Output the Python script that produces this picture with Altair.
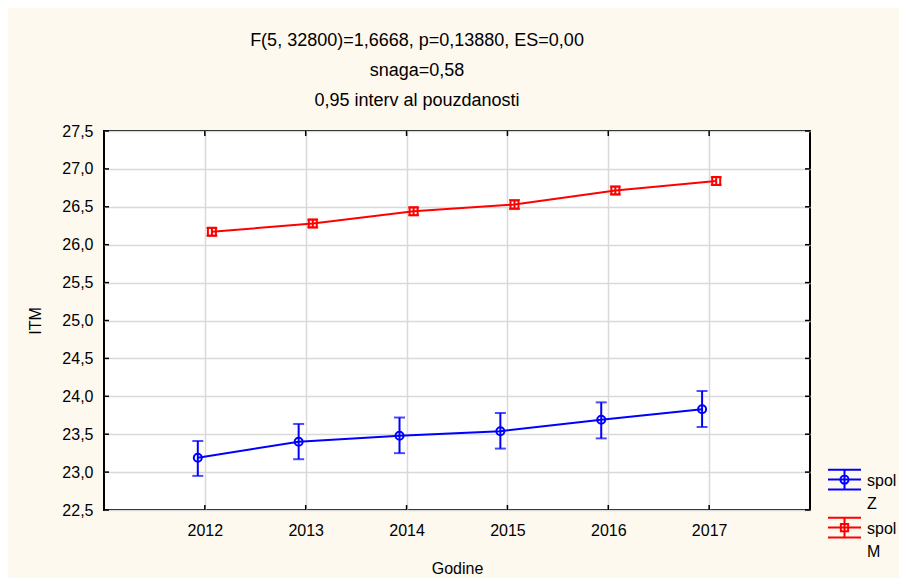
import altair as alt
import pandas as pd

# ---- data ----
years = [2012, 2013, 2014, 2015, 2016, 2017]
groups = ["Z", "M"]
colors = ["#0000FF", "#FF0000"]
shapes = ["circle", "square"]
z_mean = [23.19, 23.40, 23.48, 23.54, 23.69, 23.83]
z_lo = [22.95, 23.17, 23.25, 23.31, 23.445, 23.595]
z_hi = [23.41, 23.635, 23.72, 23.78, 23.92, 24.07]
m_mean = [26.17, 26.28, 26.44, 26.53, 26.715, 26.84]
m_lo = [26.12, 26.23, 26.39, 26.47, 26.665, 26.79]
m_hi = [26.22, 26.33, 26.49, 26.59, 26.765, 26.89]
y_ticks = [22.5, 23.0, 23.5, 24.0, 24.5, 25.0, 25.5, 26.0, 26.5, 27.0, 27.5]
title_lines = [
    "F(5, 32800)=1,6668, p=0,13880, ES=0,00",
    "snaga=0,58",
    "0,95 interv al pouzdanosti",
]

rows = []
for g, mean, lo, hi in [("Z", z_mean, z_lo, z_hi), ("M", m_mean, m_lo, m_hi)]:
    for i, yr in enumerate(years):
        rows.append({"spol": g, "year": yr, "mean": mean[i], "lo": lo[i], "hi": hi[i]})
df = pd.DataFrame(rows)
ytick_df = pd.DataFrame({"v": y_ticks})
xtick_df = pd.DataFrame({"v": years})

W, H = 706, 379
FONT = "Liberation Sans"
TL = 5  # inward tick length

x_scale = alt.Scale(domain=[2011, 2018], nice=False, zero=False)
y_scale = alt.Scale(domain=[22.5, 27.5], nice=False, zero=False)
x_axis = alt.Axis(values=years, format="d", title="Godine",
                  labelPadding=12, titlePadding=22)
y_axis = alt.Axis(values=y_ticks, title="ITM",
                  labelExpr="replace(format(datum.value, '.1f'), '.', ',')",
                  labelPadding=11, titlePadding=18)


def X(f):
    return alt.X(f, scale=x_scale, axis=x_axis)


def Y(f):
    return alt.Y(f, scale=y_scale, axis=y_axis)


# legend glyphs (error bar + marker), drawn slightly above the label baseline
sym_z = ("M-1,-0.36H1M-1,-0.96H1M-1,0.24H1M0,-0.96V0.24"
         "M0.25,-0.36A0.25,0.25 0 1 1 -0.25,-0.36A0.25,0.25 0 1 1 0.25,-0.36Z")
sym_m = ("M-1,-0.36H1M-1,-0.96H1M-1,0.24H1M0,-0.96V0.24"
         "M-0.22,-0.58H0.22V-0.14H-0.22Z")

base = alt.Chart(df).transform_calculate(
    xp="datum.year + (datum.spol == 'Z' ? -0.07 : 0.07)"
)

layers = []
for g, c, shp in zip(groups, colors, shapes):
    b = base.transform_filter(f"datum.spol == '{g}'")
    layers.append(b.mark_rule(strokeWidth=2, color=c).encode(x=X("xp:Q"), y=Y("lo:Q"), y2="hi:Q"))
    layers.append(b.mark_tick(orient="horizontal", thickness=2, size=11, color=c)
                  .encode(x=X("xp:Q"), y=Y("lo:Q")))
    layers.append(b.mark_tick(orient="horizontal", thickness=2, size=11, color=c)
                  .encode(x=X("xp:Q"), y=Y("hi:Q")))
    layers.append(b.mark_line(strokeWidth=2, color=c).encode(x=X("xp:Q"), y=Y("mean:Q")))
    layers.append(b.mark_point(shape=shp, filled=False, size=64, strokeWidth=2,
                               opacity=1, color=c).encode(x=X("xp:Q"), y=Y("mean:Q")))

leg = alt.Legend(
    title=None, orient="none", legendX=723, legendY=337,
    symbolSize=1089, symbolStrokeWidth=2, symbolOpacity=1,
    symbolFillColor="transparent",
    labelExpr="['spol', datum.label]",
    labelFont=FONT, labelFontSize=16, labelColor="black",
    labelBaseline="alphabetic", labelOffset=5, rowPadding=1,
)
legend_layer = base.mark_point(opacity=0, filled=False).encode(
    x=X("xp:Q"), y=Y("mean:Q"),
    color=alt.Color("spol:N", scale=alt.Scale(domain=groups, range=colors), legend=leg),
    shape=alt.Shape("spol:N", scale=alt.Scale(domain=groups, range=[sym_z, sym_m]), legend=leg),
)
layers.append(legend_layer)

# inward ticks on all four sides
tick_style = dict(color="black", strokeWidth=1.5)
layers += [
    alt.Chart(ytick_df).mark_rule(**tick_style).encode(
        y=Y("v:Q"), x=alt.value(0), x2=alt.value(TL)),
    alt.Chart(ytick_df).mark_rule(**tick_style).encode(
        y=Y("v:Q"), x=alt.value(W - TL), x2=alt.value(W)),
    alt.Chart(xtick_df).mark_rule(**tick_style).encode(
        x=X("v:Q"), y=alt.value(H - TL), y2=alt.value(H)),
    alt.Chart(xtick_df).mark_rule(**tick_style).encode(
        x=X("v:Q"), y=alt.value(0), y2=alt.value(TL)),
]

chart = alt.layer(*layers).properties(
    width=W, height=H,
    autosize="none",
    padding={"left": 96, "top": 123, "right": 89, "bottom": 68},
    title=alt.TitleParams(
        text=title_lines, font=FONT, fontSize=18, fontWeight="normal",
        color="black", lineHeight=30, anchor="middle", dx=-40, offset=13,
    ),
).configure(
    background="#FDF9EF",
    style={"guide-label": {"lineHeight": 23}},
).configure_view(
    stroke="black", strokeWidth=2, fill="white",
).configure_axis(
    domain=False, ticks=False, tickSize=0,
    grid=True, gridColor="#D9D9D9", gridWidth=1.5,
    labelFont=FONT, labelFontSize=16, labelColor="black",
    titleFont=FONT, titleFontSize=16, titleFontWeight="normal", titleColor="black",
)

chart.save("out.html", embed_options={"renderer": "svg", "actions": False})
